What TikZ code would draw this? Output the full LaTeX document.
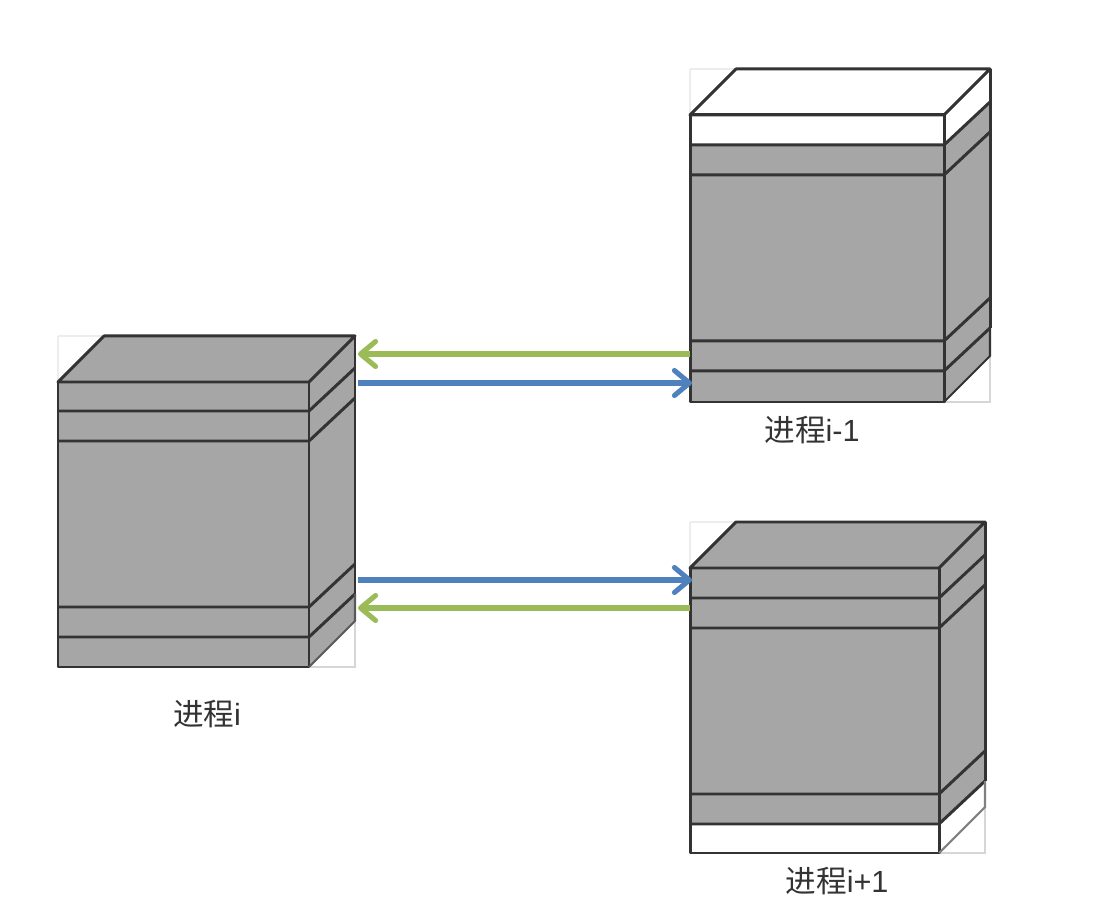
\documentclass[tikz,border=0pt]{standalone}
\usepackage{fontspec}
\setmainfont{Liberation Sans}
\newfontfamily\cjk{Noto Sans CJK SC}[Scale=1.0]
\usetikzlibrary{arrows.meta}
\definecolor{BoxGray}{HTML}{A6A6A6}
\definecolor{BoxLine}{HTML}{333333}
\definecolor{ArrowGreen}{HTML}{9BBB59}
\definecolor{ArrowBlue}{HTML}{4F81BD}
\begin{document}
\begin{tikzpicture}
    [x=0.01cm, y=-0.01cm,
    BoxEdge/.style={draw=BoxLine, line width=0.85pt, line join=round},
    FrameEdge/.style={draw=black!16, line width=0.3pt},
    FaintEdge/.style={draw=black!7, line width=0.3pt},
    FlowArrow/.style={line width=1.45pt, -{Straight Barb[length=1.5mm, width=2.5mm, round, line width=1.45pt]},
        preaction={draw=black!22, transform canvas={yshift=-0.35pt}}},
    GreenFlow/.style={FlowArrow, draw=ArrowGreen},
    BlueFlow/.style={FlowArrow, draw=ArrowBlue},
    BoxLabel/.style={font=\fontsize{8.7}{10}\selectfont, text=black!80, inner sep=0pt}]
     \useasboundingbox (0,0) rectangle (1106,910);
     % left, right, top, four band lines, bottom, colours of top and bottom band, last diagonal
     \foreach \xl/\xr/\yt/\ya/\yb/\yc/\yd/\yf/\topfill/\botfill/\botedge in
        {58/309/382/411/441/607/637/667/BoxGray/BoxGray/black!65,
         690/944/115/145/175/341/371/402/white/BoxGray/black!80,
         690/939/568/598/628/794/824/853/BoxGray/white/black!50}
     {
       \draw[FaintEdge] (\xl,\yt-46) -- (\xl+46,\yt-46);
       \draw[FaintEdge] (\xl,\yt-46) -- (\xl,\yt);
       \draw[FrameEdge] (\xr,\yf) -- (\xr+46,\yf) -- (\xr+46,\yf-46);
       \fill[BoxGray] (\xl,\yt) rectangle (\xr,\yf);
       \fill[BoxGray] (\xr,\yt) -- (\xr+46,\yt-46) -- (\xr+46,\yf-46) -- (\xr,\yf) -- cycle;
       \fill[\topfill] (\xl,\yt) rectangle (\xr,\ya);
       \fill[\topfill] (\xr,\yt) -- (\xr+46,\yt-46) -- (\xr+46,\ya-43) -- (\xr,\ya) -- cycle;
       \fill[\botfill] (\xl,\yd) rectangle (\xr,\yf);
       \fill[\botfill] (\xr,\yd) -- (\xr+46,\yd-43) -- (\xr+46,\yf-46) -- (\xr,\yf) -- cycle;
       \draw[BoxEdge, fill=\topfill] (\xl,\yt) -- (\xl+46,\yt-46) -- (\xr+46,\yt-46) -- (\xr,\yt) -- cycle;
       \draw[BoxEdge] (\xl,\yt) rectangle (\xr,\yf);
       \draw[BoxEdge] (\xr+46,\yt-46) -- (\xr+46,\yd-43);
       \foreach \yl in {\ya,\yb,\yc,\yd} {
         \draw[BoxEdge] (\xl,\yl) -- (\xr,\yl) -- (\xr+46,\yl-43);
       }
       \draw[line width=0.6pt, draw=\botedge] (\xr+46,\yd-43) -- (\xr+46,\yf-46) -- (\xr,\yf);
     }
     \coordinate (GreenUpTail) at (690, 354);
     \coordinate (GreenUpHead) at (358, 354);
     \coordinate (BlueUpTail) at (358, 383);
     \coordinate (BlueUpHead) at (692, 383);
     \coordinate (BlueDownTail) at (358, 580);
     \coordinate (BlueDownHead) at (692, 580);
     \coordinate (GreenDownTail) at (690, 608);
     \coordinate (GreenDownHead) at (358, 608);
     \draw[GreenFlow] (GreenUpTail) -- (GreenUpHead);
     \draw[BlueFlow] (BlueUpTail) -- (BlueUpHead);
     \draw[BlueFlow] (BlueDownTail) -- (BlueDownHead);
     \draw[GreenFlow] (GreenDownTail) -- (GreenDownHead);
     \node[BoxLabel] (LabelI) at (207, 714){{\cjk 进程}i};
     \node[BoxLabel] (LabelPrev) at (812, 430){{\cjk 进程}i-1};
     \node[BoxLabel] (LabelNext) at (837, 881){{\cjk 进程}i+1};
\end{tikzpicture}
\end{document}
